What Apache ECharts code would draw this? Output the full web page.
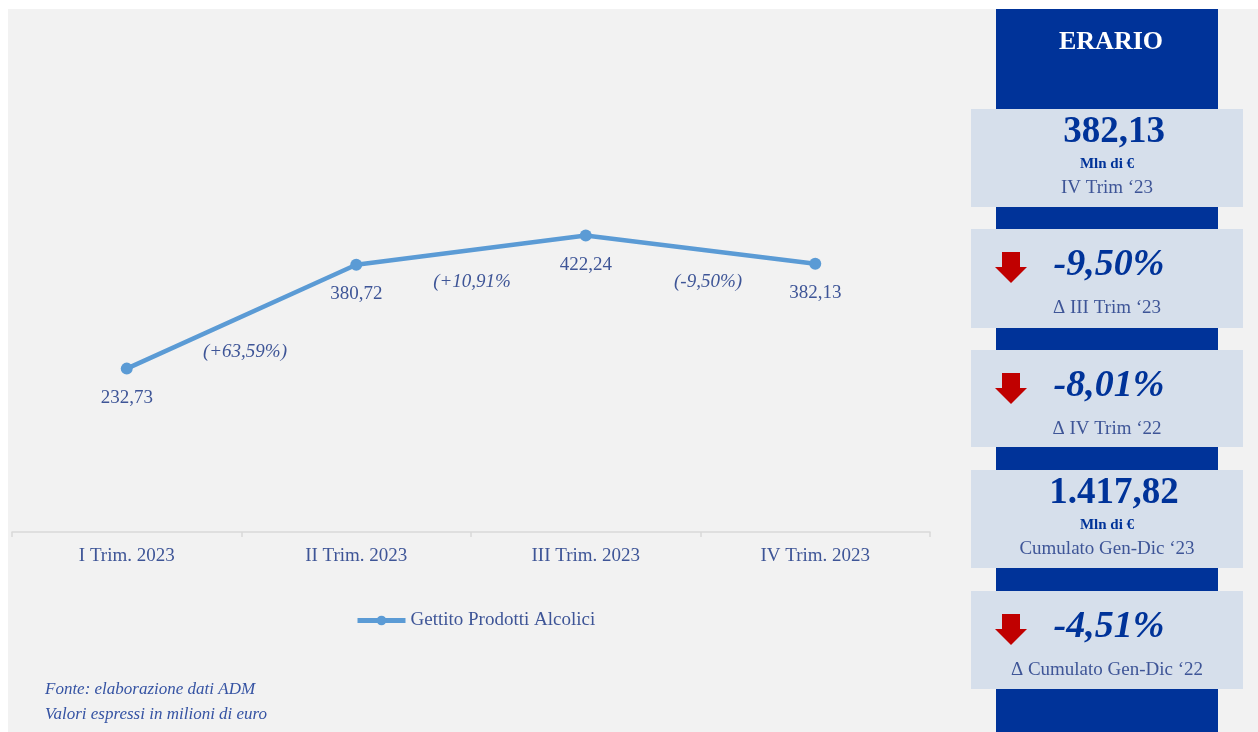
<!DOCTYPE html>
<html>
<head>
<meta charset="utf-8">
<script src="https://cdn.jsdelivr.net/npm/echarts@6/dist/echarts.min.js"></script>
<style>
  html, body { margin: 0; padding: 0; background: #fff; }
  #main { width: 1258px; height: 732px; }
</style>
</head>
<body>
<div id="main"></div>
<script>
// dati del grafico
var categories = ['I Trim. 2023', 'II Trim. 2023', 'III Trim. 2023', 'IV Trim. 2023']
var gettito = [232.73, 380.72, 422.24, 382.13]
var variazioni = ['(+63,59%)', '(+10,91%', '(-9,50%)']
var seriesName = 'Gettito Prodotti Alcolici'

// riquadri di destra
var kpiValues = ['382,13', '-9,50%', '-8,01%', '1.417,82', '-4,51%']
var kpiUnits = ['Mln di €', '', '', 'Mln di €', '']
var kpiCaptions = ['IV Trim ‘23', 'Δ III Trim ‘23', 'Δ IV Trim ‘22', 'Cumulato Gen-Dic ‘23', 'Δ Cumulato Gen-Dic ‘22']
var kpiDown = [false, true, true, false, true]

var FONT = '"Liberation Serif", "DejaVu Serif", serif'
var TXT = '#3e5597'
var BLUE = '#003399'

var chart = echarts.init(document.getElementById('main'))

function fmt (v) {
  return v.toFixed(2).replace('.', ',')
}

// box layout (y top / bottom)
var boxes = [[109, 207], [229, 328], [350, 447], [470, 568], [591, 689]]

var graphics = [
  { type: 'rect', z: -10, shape: { x: 8, y: 9, width: 1250, height: 723 }, style: { fill: '#f2f2f2' } },
  { type: 'rect', z: -5, shape: { x: 996, y: 9, width: 222, height: 723 }, style: { fill: BLUE } },
  {
    type: 'text', x: 1111, y: 42,
    style: { text: 'ERARIO', fill: '#fff', font: 'bold 26px ' + FONT, textAlign: 'center', textVerticalAlign: 'middle' }
  },
  {
    type: 'text', x: 45, y: 690,
    style: { text: 'Fonte: elaborazione dati ADM', fill: '#3553a3', font: 'italic 17px ' + FONT, textVerticalAlign: 'middle' }
  },
  {
    type: 'text', x: 45, y: 715,
    style: { text: 'Valori espressi in milioni di euro', fill: '#3553a3', font: 'italic 17px ' + FONT, textVerticalAlign: 'middle' }
  }
]

// etichette di variazione tra i trimestri
var varPos = [[245, 352], [472, 282], [708, 282]]
variazioni.forEach(function (t, i) {
  graphics.push({
    type: 'text', x: varPos[i][0], y: varPos[i][1],
    style: { text: t, fill: TXT, font: 'italic 19px ' + FONT, textAlign: 'center', textVerticalAlign: 'middle' }
  })
})

boxes.forEach(function (b, i) {
  var top = b[0]
  var h = b[1] - b[0]
  graphics.push({ type: 'rect', z: -4, shape: { x: 971, y: top, width: 272, height: h }, style: { fill: '#d6dfeb' } })
  if (kpiDown[i]) {
    // freccia rossa
    graphics.push({
      type: 'polygon', z: 1,
      shape: { points: [[1002, top + 23], [1020, top + 23], [1020, top + 38], [1027, top + 38], [1011, top + 54], [995, top + 38], [1002, top + 38]] },
      style: { fill: '#c00000' }
    })
    graphics.push({
      type: 'text', x: 1109, y: top + 36,
      style: { text: kpiValues[i], fill: BLUE, font: 'italic bold 38px ' + FONT, textAlign: 'center', textVerticalAlign: 'middle' }
    })
    graphics.push({
      type: 'text', x: 1107, y: top + 79,
      style: { text: kpiCaptions[i], fill: TXT, font: '19px ' + FONT, textAlign: 'center', textVerticalAlign: 'middle' }
    })
  } else {
    graphics.push({
      type: 'text', x: 1114, y: top + 23,
      style: { text: kpiValues[i], fill: BLUE, font: 'bold 37px ' + FONT, textAlign: 'center', textVerticalAlign: 'middle' }
    })
    graphics.push({
      type: 'text', x: 1107, y: top + 55,
      style: { text: kpiUnits[i], fill: BLUE, font: 'bold 15px ' + FONT, textAlign: 'center', textVerticalAlign: 'middle' }
    })
    graphics.push({
      type: 'text', x: 1107, y: top + 79,
      style: { text: kpiCaptions[i], fill: TXT, font: '19px ' + FONT, textAlign: 'center', textVerticalAlign: 'middle' }
    })
  }
})

var option = {
  backgroundColor: '#fff',
  animation: false,
  grid: { left: 12, right: 328, top: 181, bottom: 200, containLabel: false },
  legend: {
    data: [seriesName],
    left: 350, top: 606,
    itemWidth: 48, itemHeight: 12,
    lineStyle: { width: 5 },
    textStyle: { color: TXT, fontFamily: FONT, fontSize: 19 }
  },
  xAxis: {
    type: 'category',
    data: categories,
    boundaryGap: true,
    axisLine: { lineStyle: { color: '#d9d9d9', width: 1.5 } },
    axisTick: { show: true, length: 5, lineStyle: { color: '#d9d9d9', width: 1.5 } },
    axisLabel: { color: TXT, fontFamily: FONT, fontSize: 19, margin: 15 }
  },
  yAxis: {
    type: 'value', min: 0, max: 500, show: false,
    splitLine: { show: false }
  },
  series: [{
    name: seriesName,
    type: 'line',
    data: gettito,
    symbol: 'circle',
    symbolSize: 12,
    lineStyle: { color: '#5b9bd5', width: 4.5 },
    itemStyle: { color: '#5b9bd5' },
    label: {
      show: true,
      position: 'bottom',
      distance: 14,
      color: TXT,
      fontFamily: FONT,
      fontSize: 19,
      formatter: function (p) { return fmt(p.value) }
    }
  }],
  graphic: { elements: graphics }
}

chart.setOption(option)
</script>
</body>
</html>
